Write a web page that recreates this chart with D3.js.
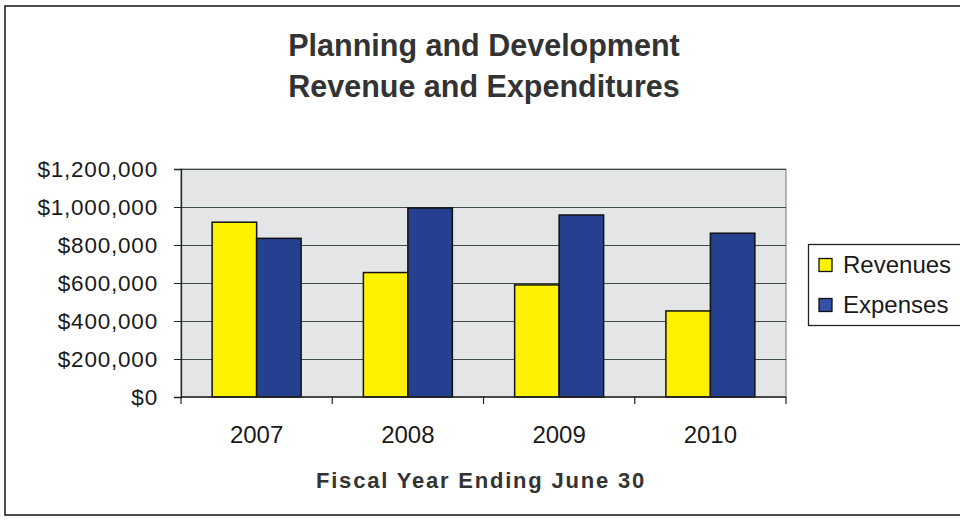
<!DOCTYPE html>
<html>
<head>
<meta charset="utf-8">
<script src="https://cdn.jsdelivr.net/npm/d3@7"></script>
<style>
  html, body { margin: 0; padding: 0; background: #fff; }
  svg { display: block; font-family: "Liberation Sans", Arial, sans-serif; }
</style>
</head>
<body>
<svg id="chart" width="960" height="525"></svg>
<script>
// Fiscal years and dollar amounts per series
const years = ["2007", "2008", "2009", "2010"];
const revenues = [920000, 655000, 590000, 453000];
const expenses = [835000, 995000, 958000, 862000];
const seriesNames = ["Revenues", "Expenses"];
const yTicks = [0, 200000, 400000, 600000, 800000, 1000000, 1200000];

const svg = d3.select("#chart");
const W = 960, H = 525;
const plot = { left: 181, right: 786, top: 169, bottom: 397 };
const colors = { Revenues: "#fff200", Expenses: "#24408e" };

// page frame
svg.append("rect").attr("x", 5).attr("y", 6).attr("width", W).attr("height", 509)
  .attr("fill", "#fff").attr("stroke", "#222").attr("stroke-width", 1.6);

// title
const title = svg.append("text").attr("text-anchor", "middle")
  .attr("font-weight", "bold").attr("font-size", 30.5)
  .attr("fill", "#333");
title.append("tspan").attr("x", 484).attr("y", 56).text("Planning and Development");
title.append("tspan").attr("x", 484).attr("y", 97).text("Revenue and Expenditures");

const x0 = d3.scaleBand().domain(years).range([plot.left, plot.right]).paddingInner(0).paddingOuter(0);
const x1 = d3.scaleBand().domain(seriesNames).range([0, x0.bandwidth()]).paddingOuter(0.7).paddingInner(0);
const y = d3.scaleLinear().domain([0, 1200000]).range([plot.bottom, plot.top]);

// plot background
svg.append("rect").attr("x", plot.left).attr("y", plot.top)
  .attr("width", plot.right - plot.left).attr("height", plot.bottom - plot.top)
  .attr("fill", "#e4e5e7").attr("stroke", "#777").attr("stroke-width", 1);

// horizontal gridlines
svg.append("g").selectAll("line").data(yTicks.filter(d => d > 0)).join("line")
  .attr("x1", plot.left).attr("x2", plot.right)
  .attr("y1", d => Math.round(y(d)) + 0.5).attr("y2", d => Math.round(y(d)) + 0.5)
  .attr("stroke", "#3c4a44").attr("stroke-width", 1.2);

// bars
const rows = years.map((yr, i) => ({ year: yr, values: [
  { key: "Revenues", value: revenues[i] },
  { key: "Expenses", value: expenses[i] }
]}));
svg.append("g").selectAll("g").data(rows).join("g")
  .attr("transform", d => `translate(${x0(d.year)},0)`)
  .selectAll("rect").data(d => d.values).join("rect")
  .attr("x", d => x1(d.key)).attr("width", x1.bandwidth())
  .attr("y", d => y(d.value)).attr("height", d => y(0) - y(d.value))
  .attr("fill", d => colors[d.key]).attr("stroke", "#111").attr("stroke-width", 1.5);

// y axis
const yAxis = svg.append("g").attr("transform", `translate(${plot.left},0)`)
  .call(d3.axisLeft(y).tickValues(yTicks).tickSize(7).tickPadding(16)
    .tickFormat(d => "$" + d3.format(",")(d)));
yAxis.select(".domain").attr("stroke", "#222").attr("stroke-width", 1.3);
yAxis.selectAll(".tick line").attr("stroke", "#222");
yAxis.selectAll(".tick text").attr("font-size", 22.5).attr("letter-spacing", 0.8)
  .attr("fill", "#1a1a1a").attr("font-family", "Liberation Sans, Arial, sans-serif");

// x axis: category boundary ticks, labels centred in bands
const xg = svg.append("g").attr("transform", `translate(0,${plot.bottom})`);
xg.append("line").attr("x1", plot.left).attr("x2", plot.right).attr("y1", 0).attr("y2", 0)
  .attr("stroke", "#222").attr("stroke-width", 1.3);
const bounds = years.map(d => x0(d)).concat([plot.right]);
xg.selectAll("line.tk").data(bounds).join("line").attr("class", "tk")
  .attr("x1", d => d).attr("x2", d => d).attr("y1", 0).attr("y2", 7)
  .attr("stroke", "#222").attr("stroke-width", 1.2);
xg.selectAll("text").data(years).join("text")
  .attr("x", d => x0(d) + x0.bandwidth() / 2).attr("y", 46)
  .attr("text-anchor", "middle").attr("font-size", 24).attr("fill", "#1a1a1a")
  .text(d => d);

// axis title
svg.append("text").attr("x", 481).attr("y", 488).attr("text-anchor", "middle")
  .attr("font-weight", "bold").attr("font-size", 22).attr("letter-spacing", 1.8)
  .attr("fill", "#333").text("Fiscal Year Ending June 30");

// legend
const lg = svg.append("g");
lg.append("rect").attr("x", 808.5).attr("y", 244.5).attr("width", 160).attr("height", 81)
  .attr("fill", "#fff").attr("stroke", "#222").attr("stroke-width", 1.3);
const items = lg.selectAll("g").data(seriesNames).join("g")
  .attr("transform", (d, i) => `translate(819,${265 + i * 40})`);
items.append("rect").attr("x", 0).attr("y", -6.5).attr("width", 13).attr("height", 13)
  .attr("fill", d => d === "Expenses" ? "#3550a4" : colors[d])
  .attr("stroke", "#111").attr("stroke-width", 1.3);
items.append("text").attr("x", 24).attr("y", 8).attr("font-size", 24).attr("fill", "#1a1a1a")
  .text(d => d);
</script>
</body>
</html>
